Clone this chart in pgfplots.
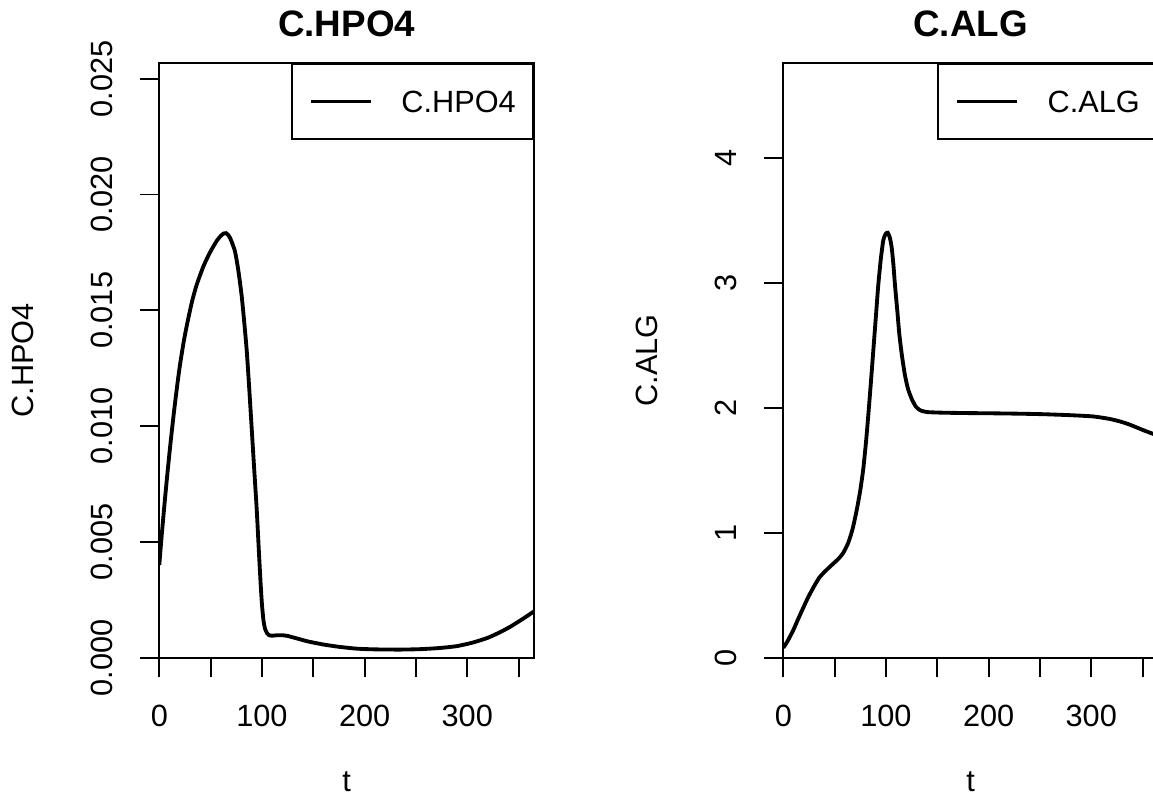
\documentclass[border=0pt]{standalone}
\usepackage{fontspec}
\setmainfont{Liberation Sans}
\usepackage{pgfplots}
\pgfplotsset{compat=1.18}

\pgfplotsset{
 rstyle/.style={
  scale only axis, width=187.35pt, height=297.5pt, anchor=south west,
  font=\fontsize{15.35pt}{18pt}\selectfont,
  xmin=0, xmax=365, ymin=0,
  xtick={0,50,...,350}, xticklabels={0,,100,,200,,300,},
  tick pos=left, tick align=outside, major tick length=9.5pt,
  axis line style={line width=0.96pt},
  every tick/.style={black, line width=0.96pt},
  /pgf/number format/assume math mode=true,
  xticklabel style={anchor=base, yshift=-25pt},
  yticklabel style={anchor=base, rotate=90, yshift=14pt},
  title style={at={(axis description cs:0.5,1)}, anchor=base, yshift=7.2pt,
    font=\bfseries\fontsize{18.4pt}{22pt}\selectfont},
  xlabel style={at={(axis description cs:0.5,0)}, anchor=base, yshift=-66.65pt},
  ylabel style={at={(axis description cs:-0.336,0.5)}, anchor=base},
  legend style={at={(axis description cs:1,1)}, anchor=north east,
    draw=black, line width=0.96pt, fill=white,
    inner xsep=8.65pt, inner ysep=13.4pt, column sep=14.35pt,
    font=\fontsize{15.35pt}{18pt}\selectfont,
    cells={anchor=center},
    nodes={inner sep=0pt, text height=11pt, text depth=0pt}},
  legend image code/.code={
    \draw[#1, line width=1.92pt] (5pt,0pt) -- (35pt,0pt);},
 }
}

\begin{document}
\begin{tikzpicture}
\useasboundingbox (0pt,0pt) rectangle (576.5pt,402.5pt);
\begin{axis}[rstyle, at={(79.65pt,73.65pt)},
  ymax=0.02569, ytick={0,0.005,...,0.025}, scaled y ticks=false,
  yticklabel style={/pgf/number format/.cd, fixed, fixed zerofill, precision=3},
  title={C.HPO4}, xlabel={t}, ylabel={C.HPO4}]
\addplot[black, line width=1.92pt, smooth, tension=0.35] coordinates {
(0,0.0040) (2,0.0051) (5,0.0066) (8,0.0080) (11,0.0093) (14,0.0105) (17,0.0116)
(20,0.0126) (24,0.0137) (28,0.0146) (32,0.0154) (36.4,0.0161) (43,0.0169) (49.4,0.0175)
(56,0.0180) (60,0.01822) (63,0.01832) (65,0.01833) (67,0.01826) (69,0.01812) (71,0.0179)
(73.7,0.01755) (76,0.0170) (78,0.0164) (80.3,0.0156) (82.5,0.0146) (85.1,0.0133)
(87.5,0.0117) (90,0.0099) (92.5,0.0081) (94.9,0.0064) (97,0.0046) (98.7,0.0032)
(100,0.0023) (101.5,0.0016) (103,0.00125) (105,0.00105) (107,0.00097) (110,0.00095)
(115,0.00097) (120,0.00097) (125,0.00094) (130,0.00088) (135,0.00082) (145,0.0007)
(159.8,0.00057) (175,0.00047) (192.3,0.00039) (210,0.00036) (234.5,0.00035) (255,0.00037)
(273.4,0.00042) (290,0.0005) (305.9,0.00066) (320,0.00086) (331.9,0.0011) (342,0.00134)
(351.4,0.0016) (358,0.00179) (365,0.0020)
};
\addlegendentry{C.HPO4}
\end{axis}
\begin{axis}[rstyle, at={(391.65pt,73.65pt)},
  ymax=4.76, ytick={0,1,2,3,4},
  title={C.ALG}, xlabel={t}, ylabel={C.ALG}]
\addplot[black, line width=1.92pt, smooth, tension=0.35] coordinates {
(0,0.08) (4,0.13) (9.7,0.22) (14.5,0.31) (19.5,0.40) (24,0.48) (29.2,0.56) (35,0.64)
(40.6,0.69) (47,0.74) (53.6,0.79) (58.5,0.84) (63.3,0.92) (67.5,1.03) (71.5,1.18)
(75,1.34) (77.9,1.51) (80.5,1.72) (82.8,1.94) (85.3,2.20) (87.7,2.46) (90.2,2.73)
(92.5,2.98) (95,3.19) (97.4,3.34) (99.6,3.39) (101.7,3.40) (103.8,3.36) (105.6,3.28)
(107.3,3.14) (108.8,2.98) (111,2.78) (113,2.59) (115.5,2.42) (118.5,2.26) (121.5,2.15)
(125.1,2.07) (129,2.01) (133.2,1.98) (140,1.965) (155.9,1.96) (180,1.957) (204.6,1.955)
(230,1.952) (253.3,1.948) (280,1.94) (302,1.93) (318,1.91) (328,1.89) (337,1.866)
(344.2,1.842) (352,1.816) (360.4,1.79) (365,1.775)
};
\addlegendentry{C.ALG}
\end{axis}
\end{tikzpicture}
\end{document}
